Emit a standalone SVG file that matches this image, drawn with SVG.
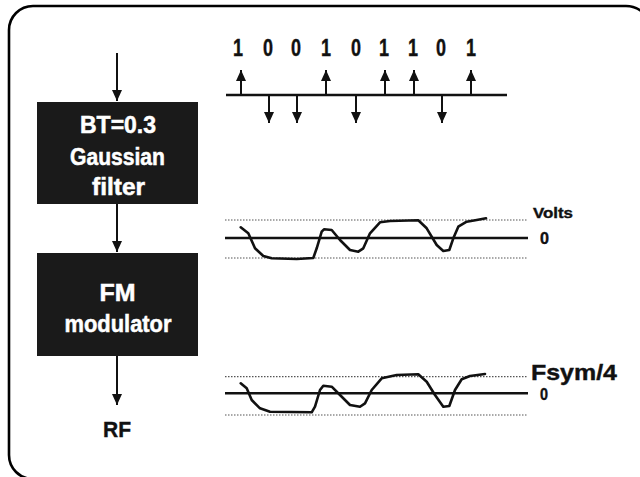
<svg xmlns="http://www.w3.org/2000/svg" width="640" height="477" viewBox="0 0 640 477">
<style>
.t{font-family:"Liberation Sans",Arial,sans-serif;font-weight:bold;}
.w{fill:#fff;stroke:#fff;stroke-width:0.5;font-size:23px;}
.k{fill:#111;stroke:#111;stroke-width:0.4;}
.box{fill:#1a1a1a;}
.ln{stroke:#111;stroke-width:2;fill:none;}
.ax{stroke:#111;stroke-width:2.5;fill:none;}
.dot{stroke:#555;stroke-width:1.2;stroke-dasharray:1.5 1.5;fill:none;}
.wave{stroke:#111;stroke-width:2.6;fill:none;stroke-linejoin:round;stroke-linecap:round;}
</style>
<defs>
<marker id="a" markerUnits="userSpaceOnUse" markerWidth="12" markerHeight="10" viewBox="0 0 12 10" refX="11" refY="5" orient="auto">
<polygon points="0,0 11,5 0,10" fill="#111"/>
</marker>
</defs>
<rect width="640" height="477" fill="#fff"/>
<path d="M651,31 A25,25 0 0 0 626,6 H33 A24,24 0 0 0 9,30 V455 A24,24 0 0 0 33,479 H660" fill="none" stroke="#000" stroke-width="2.6"/>

<g id="connectors">
<line class="ln" x1="117" y1="53" x2="117" y2="101" marker-end="url(#a)"/>
<line class="ln" x1="117" y1="204" x2="117" y2="252" marker-end="url(#a)"/>
<line class="ln" x1="117" y1="356" x2="117" y2="405" marker-end="url(#a)"/>
</g>

<g id="filter">
<rect class="box" x="37" y="102" width="161" height="102"/>
<text class="t w" x="118" y="133" text-anchor="middle" textLength="76" lengthAdjust="spacingAndGlyphs">BT=0.3</text>
<text class="t w" x="117.5" y="165" text-anchor="middle" textLength="95" lengthAdjust="spacingAndGlyphs">Gaussian</text>
<text class="t w" x="118.5" y="195" text-anchor="middle" textLength="53" lengthAdjust="spacingAndGlyphs">filter</text>
</g>

<g id="modulator">
<rect class="box" x="37" y="253" width="161" height="103"/>
<text class="t w" x="117.5" y="301" text-anchor="middle" textLength="36" lengthAdjust="spacingAndGlyphs">FM</text>
<text class="t w" x="118" y="332" text-anchor="middle" textLength="107" lengthAdjust="spacingAndGlyphs">modulator</text>
</g>

<g id="rf">
<text class="t k" x="117" y="437" text-anchor="middle" font-size="22" textLength="28" lengthAdjust="spacingAndGlyphs">RF</text>
</g>

<g id="bits">
<line class="ax" x1="226" y1="95" x2="507" y2="95"/>
<g class="ln">
<line x1="241" y1="95" x2="241" y2="70" marker-end="url(#a)"/>
<line x1="269" y1="95" x2="269" y2="123" marker-end="url(#a)"/>
<line x1="297" y1="95" x2="297" y2="123" marker-end="url(#a)"/>
<line x1="326" y1="95" x2="326" y2="70" marker-end="url(#a)"/>
<line x1="356" y1="95" x2="356" y2="123" marker-end="url(#a)"/>
<line x1="385" y1="95" x2="385" y2="70" marker-end="url(#a)"/>
<line x1="414" y1="95" x2="414" y2="70" marker-end="url(#a)"/>
<line x1="442" y1="95" x2="442" y2="123" marker-end="url(#a)"/>
<line x1="471" y1="95" x2="471" y2="70" marker-end="url(#a)"/>
</g>
<g class="t k" font-size="23" text-anchor="middle">
<text x="238" y="56" textLength="10" lengthAdjust="spacingAndGlyphs">1</text>
<text x="268" y="56" textLength="10" lengthAdjust="spacingAndGlyphs">0</text>
<text x="296" y="56" textLength="10" lengthAdjust="spacingAndGlyphs">0</text>
<text x="326" y="56" textLength="10" lengthAdjust="spacingAndGlyphs">1</text>
<text x="356" y="56" textLength="10" lengthAdjust="spacingAndGlyphs">0</text>
<text x="384" y="56" textLength="10" lengthAdjust="spacingAndGlyphs">1</text>
<text x="413" y="56" textLength="10" lengthAdjust="spacingAndGlyphs">1</text>
<text x="441" y="56" textLength="10" lengthAdjust="spacingAndGlyphs">0</text>
<text x="471" y="56" textLength="10" lengthAdjust="spacingAndGlyphs">1</text>
</g>
</g>

<g id="wave1">
<line class="dot" x1="225" y1="220" x2="528" y2="220"/>
<line class="ax" x1="225" y1="238" x2="528" y2="238"/>
<line class="dot" x1="225" y1="258" x2="528" y2="258"/>
<path class="wave" d="M240.7,227.3 L248.3,233.3 L255,248.3 L263.3,256 L271.7,258.3 L296.7,259 L313.3,258 L316.7,248.3 L321.7,231.7 L324,229.3 L331.7,230 L340,240 L350,250 L358.3,251.7 L363.3,248.3 L370,233.3 L380,222.3 L390,221 L418.3,220.3 L426.7,228.3 L436.7,245 L443.3,251 L449.3,250 L453.3,238.3 L458.3,226.7 L466.7,221.7 L476.7,220 L486,218.3"/>
<text class="t k" x="533" y="218" font-size="15" textLength="40" lengthAdjust="spacingAndGlyphs">Volts</text>
<text class="t k" x="540" y="244" font-size="17" textLength="9" lengthAdjust="spacingAndGlyphs">0</text>
</g>

<g id="wave2">
<line class="dot" x1="225" y1="376.7" x2="528" y2="376.7"/>
<line class="ax" x1="225" y1="393.3" x2="528" y2="393.3"/>
<line class="dot" x1="225" y1="415" x2="528" y2="415"/>
<path class="wave" d="M240.7,383.3 L246.7,388.3 L251.7,400 L260,408.3 L270,411.7 L311.7,412.3 L315,406.7 L320,390 L323.3,385.7 L331.7,386.7 L340,395 L350,405 L360,406.7 L365,403.3 L371.7,390 L381.7,378.3 L396.7,375 L418.3,374.3 L426.7,381.7 L435,395 L443.3,406.7 L449.3,406 L455,390 L461.7,379.3 L470,376 L485,374"/>
<text class="t k" x="531" y="380" font-size="22" textLength="86" lengthAdjust="spacingAndGlyphs">Fsym/4</text>
<text class="t k" x="540" y="400" font-size="16" textLength="8" lengthAdjust="spacingAndGlyphs">0</text>
</g>
</svg>
